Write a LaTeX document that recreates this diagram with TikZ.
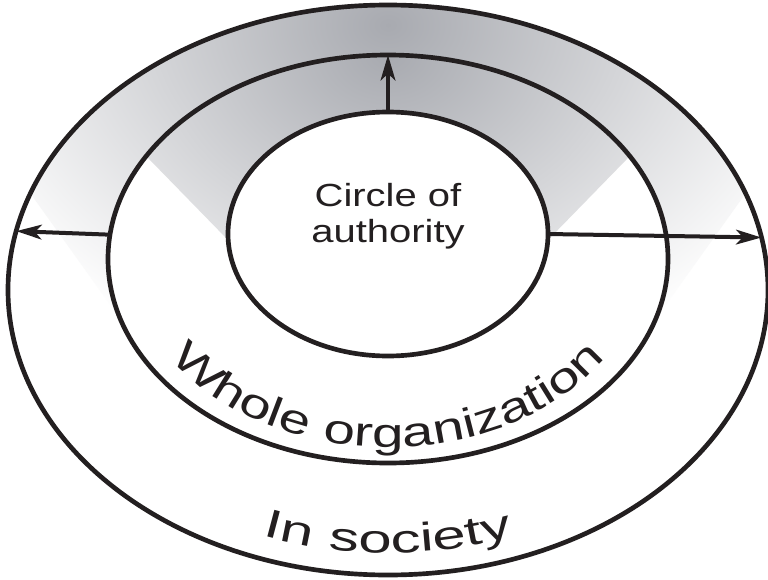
\documentclass[tikz,border=0pt]{standalone}
\usepackage{fontspec}
\setmainfont{Liberation Sans}
\newfontfamily\circfont[FakeStretch=1.25]{Liberation Sans}
\newfontfamily\orgfont[FakeStretch=1.37]{Liberation Sans}
\newfontfamily\socfont[FakeStretch=1.5]{Liberation Sans}
\usetikzlibrary{shapes.geometric,arrows.meta,decorations.text}
\definecolor{shadegray}{RGB}{168,170,176}
\definecolor{lc}{RGB}{35,31,32}
\tikzset{
  ring/.style={ellipse, draw=lc, line width=3.5pt, inner sep=0pt, outer sep=0pt},
  arr/.style={draw=lc, line width=3pt, -{Stealth[length=19pt,width=11pt,inset=5pt]}},
}
\begin{document}
\begin{tikzpicture}[x=0.75pt,y=-0.75pt]
\useasboundingbox (0,0) rectangle (768,579);
\fill[white] (0,0) rectangle (768,579);
% outer ring shading
\begin{scope}
  \clip (388,290) ellipse [x radius=380, y radius=285];
  \clip (-108,0) -- (884,0) -- (655,320) -- (121,320) -- cycle;
  \shade[inner color=shadegray, outer color=white] (388,25) ellipse [x radius=470, y radius=355];
\end{scope}
% middle ring shading
\fill[white] (388,259) ellipse [x radius=280, y radius=204];
\begin{scope}
  \clip (388,259) ellipse [x radius=280, y radius=204];
  \clip (-6,0) -- (782,0) -- (548,240) -- (228,240) -- cycle;
  \shade[inner color=shadegray, outer color=white] (388,55) ellipse [x radius=450, y radius=340];
\end{scope}
% rings
\node[ring, minimum width=570pt, minimum height=427.5pt] (outer) at (388,290) {};
\node[ring, minimum width=420pt, minimum height=306pt] (middle) at (388,259) {};
\node[ring, fill=white, minimum width=240pt, minimum height=183pt] (inner) at (388,234) {};
\node[font=\circfont\fontsize{24}{27}\selectfont, align=center, text=lc] (ctext) at (388,216) {Circle of\\authority};
% arrows
\draw[arr] (inner.north) -- (middle.north);
\draw[arr] (middle.175.27) -- (outer.171.76);
\draw[arr] (inner.east) -- (outer.8.55);
% curved labels
\path[decorate, decoration={text along path, text={|\orgfont\fontsize{31}{36}\selectfont\color{lc}|Whole organization}, text align=center}]
  ([shift={(190:192pt and 141pt)}]middle.center) arc[start angle=190, end angle=350, x radius=192pt, y radius=141pt];
\path[decorate, decoration={text along path, text={|\socfont\fontsize{30}{36}\selectfont\color{lc}|In society}, text align=center}]
  ([shift={(200:264pt and 197.25pt)}]outer.center) arc[start angle=200, end angle=340, x radius=264pt, y radius=197.25pt];
\end{tikzpicture}
\end{document}
